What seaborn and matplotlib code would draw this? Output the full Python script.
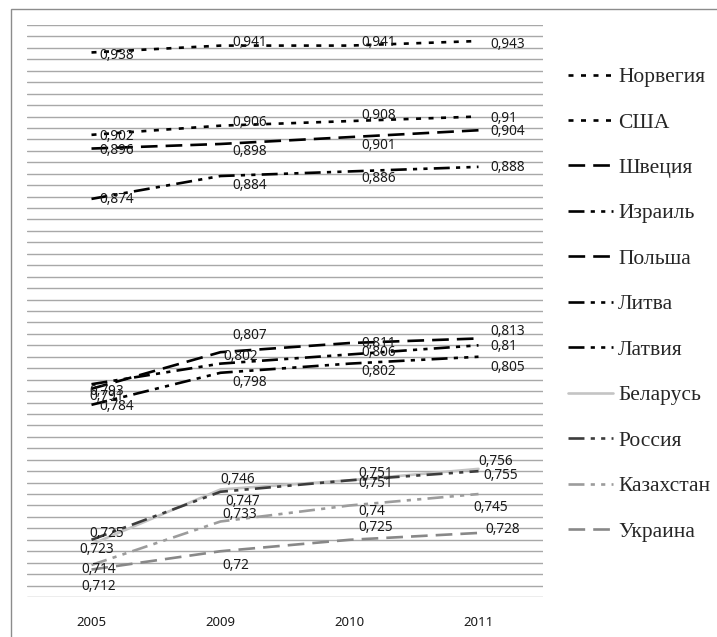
import numpy as np
import pandas as pd
import matplotlib
matplotlib.use("Agg")
import matplotlib.pyplot as plt
from matplotlib.patches import Rectangle
import seaborn as sns

# Data (HDI values)
years = ["2005", "2009", "2010", "2011"]
countries = ["Норвегия", "США", "Швеция", "Израиль", "Польша", "Литва",
             "Латвия", "Беларусь", "Россия", "Казахстан", "Украина"]

norway = [0.938, 0.941, 0.941, 0.943]
usa = [0.902, 0.906, 0.908, 0.910]
sweden = [0.896, 0.898, 0.901, 0.904]
israel = [0.874, 0.884, 0.886, 0.888]
poland = [0.791, 0.807, 0.811, 0.813]
lithuania = [0.793, 0.802, 0.806, 0.810]
latvia = [0.784, 0.798, 0.802, 0.805]
belarus = [0.723, 0.747, 0.751, 0.756]
russia = [0.725, 0.746, 0.751, 0.755]
kazakhstan = [0.714, 0.733, 0.740, 0.745]
ukraine = [0.712, 0.720, 0.725, 0.728]

values = [norway, usa, sweden, israel, poland, lithuania,
          latvia, belarus, russia, kazakhstan, ukraine]

# Line styles (dash patterns in points)
dot = (3.6, 5.4)
long_dash = (12.0, 5.8)
dash_dot_dot = (11.5, 4.5, 3.0, 4.5, 3.0, 4.5)
colors = ["black", "black", "black", "black", "black", "black", "black",
          "#c4c4c4", "#3c3c3c", "#9c9c9c", "#888888"]
dashes = [dot, dot, long_dash, dash_dot_dot, long_dash, dash_dot_dot,
          dash_dot_dot, None, dash_dot_dot, dash_dot_dot, long_dash]

# Label offsets in pixels (dx right, dy down)
label_offsets = [
    [(8, 3.5), (11.5, -2.6), (12, -2.6), (11.5, 3)],
    [(8, 2), (11.5, -2.7), (12, -6), (11.5, 1.5)],
    [(8, 1.5), (11.5, 7.7), (12, 8), (11.5, 1.4)],
    [(8, 1), (11.5, 9), (12, 6.7), (11.5, 1)],
    [(-2, 8), (11.5, -17), (12, 0), (11.5, -7)],
    [(-2, 7.5), (2.5, -7), (12, -1.5), (11.5, 1.4)],
    [(8, 2), (11.5, 10), (12, 8), (11.5, 11)],
    [(-12, 5.6), (4.5, 12), (8.5, -7), (-0.5, -7)],
    [(-2, -6.5), (-0.5, -12), (8.5, 3), (4.5, 4)],
    [(-10, 5), (1.5, -6.5), (8.5, 6.5), (-5.5, 13)],
    [(-10, 17), (1.5, 14), (8.5, -12), (6.5, -3)],
]

sns.set_style("white")
plt.rcParams["font.family"] = ["Noto Sans", "DejaVu Sans"]
plt.rcParams["lines.scale_dashes"] = False

fig = plt.figure(figsize=(7.17, 6.37), dpi=100)
ax = fig.add_axes([27 / 717, 1 - 597 / 637, 516 / 717, 572 / 637])

handles = []
for name, vals, col, dsh in zip(countries, values, colors, dashes):
    df = pd.DataFrame({"year": years, "value": vals})
    sns.lineplot(data=df, x="year", y="value", color=col, linewidth=1.9,
                 ax=ax, sort=False)
    line = ax.lines[-1]
    if dsh is not None:
        line.set_dashes(dsh)
    line.set_dash_capstyle("butt")
    handles.append(line)

# Data labels
for vals, offs in zip(values, label_offsets):
    for i, (v, (dx, dy)) in enumerate(zip(vals, offs)):
        txt = f"{v:.3f}".rstrip("0").replace(".", ",")
        ax.annotate(txt, (i, v), xytext=(dx, -dy), textcoords="offset pixels",
                    ha="left", va="center", fontsize=9.8, color="#1a1a1a")

ax.set_xlim(-0.5, 3.5)
ax.set_ylim(0.70, 0.95)
ax.set_yticks(np.arange(0.70, 0.9501, 0.005))
ax.set_yticklabels([])
ax.yaxis.grid(True, color="#a8a8a8", linewidth=1)
ax.xaxis.grid(False)
ax.set_axisbelow(True)
ax.tick_params(axis="both", length=0)
ax.tick_params(axis="x", pad=14, labelsize=9.5, labelcolor="#1a1a1a")
for lab in ax.get_xticklabels():
    lab.set_fontweight("bold")
ax.set_xlabel("")
ax.set_ylabel("")
for sp in ax.spines.values():
    sp.set_visible(False)

fig.legend(handles, countries, loc="upper left",
           bbox_to_anchor=(568 / 717, 1 - 67 / 637), frameon=False,
           prop={"family": "Liberation Serif", "size": 15.5},
           handlelength=2.09, handletextpad=0.23, labelspacing=1.18,
           borderpad=0, borderaxespad=0)

# Chart area border
fig.patches.append(Rectangle((11 / 717, -0.1), 1.0, 1.1 - 9 / 637,
                             transform=fig.transFigure, fill=False,
                             edgecolor="#8c8c8c", linewidth=1))

plt.savefig("out.png", dpi=100)
